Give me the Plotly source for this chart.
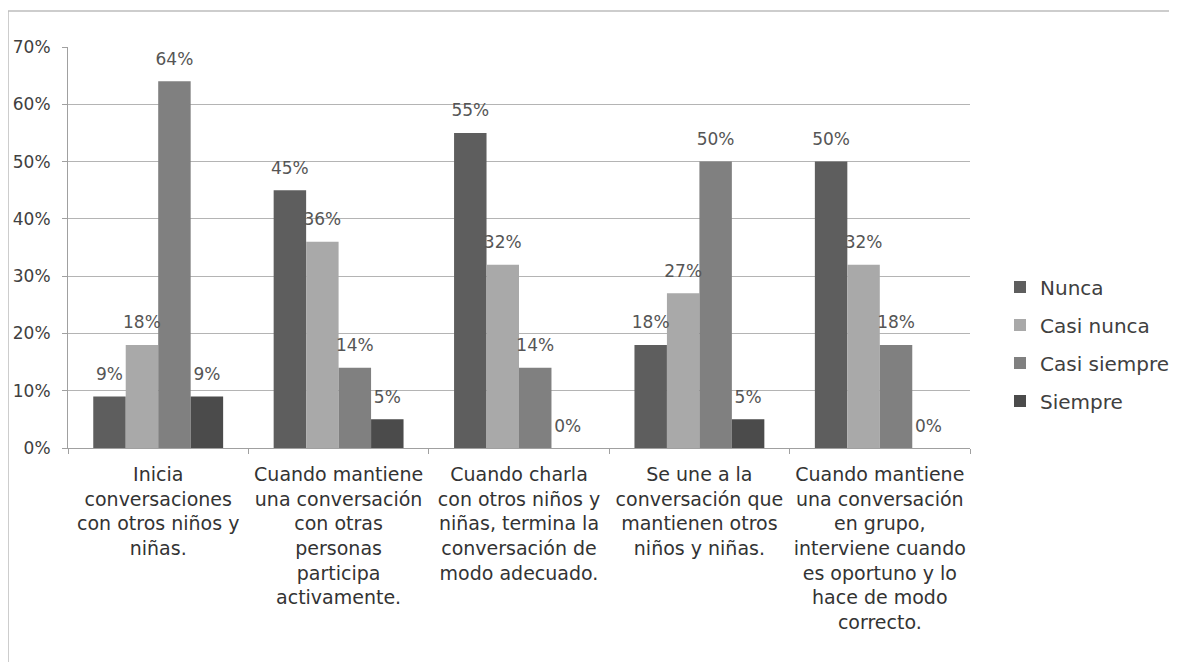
import plotly.graph_objects as go

categories = [
    "Inicia<br>conversaciones<br>con otros niños y<br>niñas.",
    "Cuando mantiene<br>una conversación<br>con otras<br>personas<br>participa<br>activamente.",
    "Cuando charla<br>con otros niños y<br>niñas, termina la<br>conversación de<br>modo adecuado.",
    "Se une a la<br>conversación que<br>mantienen otros<br>niños y niñas.",
    "Cuando mantiene<br>una conversación<br>en grupo,<br>interviene cuando<br>es oportuno y lo<br>hace de modo<br>correcto.",
]
series_names = ["Nunca", "Casi nunca", "Casi siempre", "Siempre"]
nunca = [0.09, 0.45, 0.55, 0.18, 0.50]
casi_nunca = [0.18, 0.36, 0.32, 0.27, 0.32]
casi_siempre = [0.64, 0.14, 0.14, 0.50, 0.18]
siempre = [0.09, 0.05, 0.00, 0.05, 0.00]
y_ticks = [0, 0.1, 0.2, 0.3, 0.4, 0.5, 0.6, 0.7]

series_values = [nunca, casi_nunca, casi_siempre, siempre]
colors = ["#5e5e5e", "#a9a9a9", "#808080", "#4b4b4b"]

FONT = "DejaVu Sans"
OFF = 8  # page body margin
W, H = 1177 - 2 * OFF, 670 - 2 * OFF
# target plot area in page pixels: x 68..970, y 47..448
L, T = 68 - OFF, 47 - OFF
R, B = W - (970 - OFF), H - (448 - OFF)
pw, ph = W - L - R, H - T - B
GAP = 0.28

def px_x(px):
    return (px - OFF - L) / pw

def px_y(py):
    return (448 - py) / ph

fig = go.Figure()
for i, (name, vals) in enumerate(zip(series_names, series_values)):
    fig.add_trace(go.Bar(
        name=name, x=categories, y=vals,
        marker=dict(color=colors[i], line=dict(width=0)),
        offsetgroup=str(i), legendgroup=name,
        hoverinfo="skip",
    ))
for i, (name, vals) in enumerate(zip(series_names, series_values)):
    fig.add_trace(go.Scatter(
        x=categories, y=vals, mode="markers+text",
        text=[f"{round(v*100)}%" for v in vals],
        textposition="top center",
        textfont=dict(family=FONT, size=17, color="#555555"),
        marker=dict(size=18, opacity=0, color=colors[i]),
        offsetgroup=str(i), showlegend=False, hoverinfo="skip",
        cliponaxis=False,
    ))

fig.update_layout(
    width=W, height=H,
    margin=dict(l=L, r=R, t=T, b=B, autoexpand=False),
    paper_bgcolor="white", plot_bgcolor="white",
    barmode="group", bargap=GAP, bargroupgap=0,
    scattermode="group", scattergap=GAP,
    font=dict(family=FONT, color="#404040"),
    legend=dict(
        x=px_x(1000), y=px_y(344), xanchor="left", yanchor="middle",
        font=dict(family=FONT, size=20, color="#404040"),
        traceorder="grouped", tracegroupgap=9,
        itemwidth=30, bgcolor="rgba(0,0,0,0)",
    ),
    showlegend=True,
    shapes=[dict(
        type="rect", xref="paper", yref="paper",
        x0=px_x(8), x1=px_x(1250),
        y0=px_y(750), y1=px_y(11),
        line=dict(color="#bdbdbd", width=1.5), layer="below",
    )],
)
fig.update_yaxes(
    range=[0, 0.7], tickvals=y_ticks, tickformat=".0%",
    showgrid=True, gridcolor="#b4b4b4", gridwidth=1,
    showline=True, linecolor="#a0a0a0", linewidth=1,
    ticks="outside", ticklen=5, tickcolor="#a0a0a0",
    tickfont=dict(family=FONT, size=17, color="#404040"),
    ticklabelstandoff=8, zeroline=False, automargin=False,
)
fig.update_xaxes(
    showline=True, linecolor="#a0a0a0", linewidth=1,
    ticks="outside", ticklen=5, tickcolor="#a0a0a0", tickson="boundaries",
    tickfont=dict(family=FONT, size=19, color="#333333"),
    tickangle=0, showgrid=False, ticklabelstandoff=9, automargin=False,
)

fig.write_html("out.html")
